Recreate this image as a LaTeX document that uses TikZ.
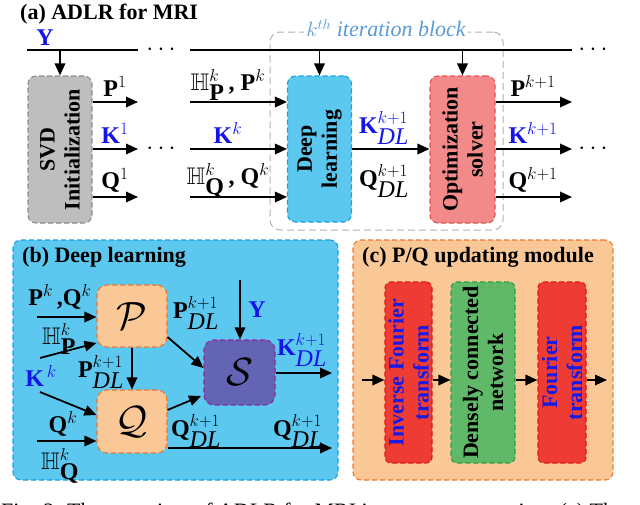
\documentclass[tikz,border=0pt]{standalone}
\usepackage{amssymb}
\usepackage{fontspec}
\setmainfont{Liberation Serif}
\usetikzlibrary{arrows.meta}
\definecolor{kblue}{RGB}{20,20,235}
\definecolor{itblue}{RGB}{91,155,213}
\definecolor{svdfill}{RGB}{190,190,190}
\definecolor{svdline}{RGB}{140,140,140}
\definecolor{dlfill}{RGB}{92,200,240}
\definecolor{dlline}{RGB}{20,160,225}
\definecolor{optfill}{RGB}{242,138,138}
\definecolor{optline}{RGB}{230,80,80}
\definecolor{orfill}{RGB}{250,200,150}
\definecolor{orline}{RGB}{232,120,50}
\definecolor{sfill}{RGB}{100,100,180}
\definecolor{sline}{RGB}{140,40,160}
\definecolor{redfill}{RGB}{238,60,52}
\definecolor{redline}{RGB}{225,20,20}
\definecolor{grfill}{RGB}{95,185,105}
\definecolor{grline}{RGB}{40,160,60}
\definecolor{txtblue}{RGB}{25,25,230}
\newcommand{\dlsub}{\textnormal{\textit{DL}}}
\tikzset{
  box/.style={draw, dash pattern=on 5pt off 3pt, line width=1.1pt, rounded corners=8pt, inner sep=0pt},
  arr/.style={line width=1.8pt, -{Triangle[length=12pt,width=10.5pt]}},
  plain/.style={line width=1.8pt},
  ttl/.style={font=\fontsize{22}{24}\selectfont\bfseries, inner sep=0pt},
  lbl/.style={font=\fontsize{24}{26}\selectfont\bfseries, inner sep=0pt},
  vtext/.style={font=\fontsize{22}{25}\selectfont\bfseries, rotate=90, align=center, inner sep=0pt},
  cal/.style={font=\fontsize{22}{24}\selectfont, inner sep=0pt}
}
\begin{document}
\begin{tikzpicture}[x=1pt,y=-1pt]
\useasboundingbox (0,0) rectangle (640,504);
\clip (0,0) rectangle (640,504);
\fill[white] (0,0) rectangle (640,504);

% ---------------- (a) ----------------
\node[ttl, anchor=west] (ta) at (20,14) {(a) ADLR for MRI};

\node[draw=gray!60, dash pattern=on 7pt off 4pt, line width=1pt, rounded corners=10pt,
      minimum width=233pt, minimum height=198pt, inner sep=0pt] (iter) at (386.5,131) {};
\node[fill=white, inner sep=2pt, text=itblue, font=\fontsize{22}{24}\selectfont\itshape] (itlbl) at (386,28) {$k^{th}$ iteration block};

\node[lbl, text=kblue] (ylbl) at (45,38) {Y};
\coordinate (ya) at (27,50);
\coordinate (yb) at (138,50);
\coordinate (yc) at (190,50);
\coordinate (yd) at (572,50);
\draw[plain] (ya) -- (yb);
\draw[plain] (yc) -- (yd);
\node[lbl] (dots1) at (161,50) {$\cdots$};
\node[lbl] (dots2) at (593,50) {$\cdots$};

\node[box, fill=svdfill, draw=svdline, minimum width=64pt, minimum height=147pt] (svd) at (60,149.5) {};
\node[vtext] (svdt) at (svd.center) {SVD\\Initialization};
\node[box, fill=dlfill, draw=dlline, minimum width=64pt, minimum height=146pt] (dl) at (319.5,149) {};
\node[vtext] (dlt) at (dl.center) {Deep\\learning};
\node[box, fill=optfill, draw=optline, minimum width=65pt, minimum height=147pt] (opt) at (462.5,149.5) {};
\node[vtext] (optt) at (opt.center) {Optimization\\solver};

\draw[arr] (svd.north |- ya) -- (svd.north);
\draw[arr] (dl.north |- yc) -- (dl.north);
\draw[arr] (opt.north |- yc) -- (opt.north);

% outputs of SVD
\coordinate (s1) at (138,102);
\coordinate (s2) at (138,149);
\coordinate (s3) at (138,197);
\draw[arr] (svd.east |- s1) -- (s1);
\draw[arr] (svd.east |- s2) -- (s2);
\draw[arr] (svd.east |- s3) -- (s3);
\node[lbl] (p1) at (115,86) {P$^{1}$};
\node[lbl, text=kblue] (k1) at (115,133) {K$^{1}$};
\node[lbl] (q1) at (115,180) {Q$^{1}$};
\node[lbl] (dots3) at (161,149) {$\cdots$};

% inputs of DL
\coordinate (d1) at (190,102);
\coordinate (d2) at (190,149);
\coordinate (d3) at (190,197);
\draw[arr] (d1) -- (dl.west |- d1);
\draw[arr] (d2) -- (dl.west |- d2);
\draw[arr] (d3) -- (dl.west |- d3);
\node[lbl] (hp) at (228,85) {$\mathbb{H}^{k}_{\textbf{P}}\,$, P$^{k}$};
\node[lbl, text=kblue] (kk) at (228,133) {K$^{k}$};
\node[lbl] (hq) at (228,181) {$\mathbb{H}^{k}_{\textbf{Q}}\,$, Q$^{k}$};

% DL -> opt
\draw[arr] (dl.east |- d2) -- (opt.west |- d2);
\node[lbl, text=kblue] (kdl) at (384,128) {K$^{k+1}_{\dlsub}$};
\node[lbl] (qdl) at (384,181) {Q$^{k+1}_{\dlsub}$};

% outputs of opt
\coordinate (o1) at (572,102);
\coordinate (o2) at (572,149);
\coordinate (o3) at (572,197);
\draw[arr] (opt.east |- o1) -- (o1);
\draw[arr] (opt.east |- o2) -- (o2);
\draw[arr] (opt.east |- o3) -- (o3);
\node[lbl] (pk1) at (533,86) {P$^{k+1}$};
\node[lbl, text=kblue] (kk1) at (533,133) {K$^{k+1}$};
\node[lbl] (qk1) at (533,180) {Q$^{k+1}$};
\node[lbl] (dots4) at (593,149) {$\cdots$};

% ---------------- (b) ----------------
\node[box, fill=dlfill, draw=dlline, minimum width=325pt, minimum height=240pt] (pb) at (175.5,360) {};
\node[ttl, anchor=west] (tb) at (22,257) {(b) Deep learning};

\node[box, fill=orfill, draw=orline, minimum width=70pt, minimum height=62pt, rounded corners=10pt] (P) at (132,316) {};
\node[cal] (Pt) at (P.center) {\scalebox{1.9}{$\mathcal{P}$}};
\node[box, fill=orfill, draw=orline, minimum width=70pt, minimum height=63pt, rounded corners=10pt] (Q) at (132,421.5) {};
\node[cal] (Qt) at (Q.center) {\scalebox{1.9}{$\mathcal{Q}$}};
\node[box, fill=sfill, draw=sline, minimum width=71pt, minimum height=65pt, rounded corners=10pt] (S) at (239.5,372.5) {};
\node[cal] (St) at (S.center) {\scalebox{1.9}{$\mathcal{S}$}};

\coordinate (pin) at (37,317);
\draw[arr] (pin) -- (P.west |- pin);
\node[lbl] (pqk) at (60,297) {P$^{k}$\,,Q$^{k}$};
\node[lbl] (hpk) at (59,339) {$\mathbb{H}^{k}_{\textbf{P}}$};

\node[lbl, text=kblue] (kkb) at (41,376) {K$^{\,k}$};
\coordinate (kp) at (40,358);
\coordinate (kq) at (40,392);
\draw[arr] (kp) -- (P.west |- 0,343);
\draw[arr] (kq) -- (Q.west |- 0,415);

\draw[arr] (P.south) -- (Q.north);
\node[lbl] (pdl1) at (101,372) {P$^{k+1}_{\dlsub}$};

\draw[arr] (P.east |- 0,337) -- (S.west |- 0,368);
\node[lbl] (pdl2) at (196,313) {P$^{k+1}_{\dlsub}$};

\coordinate (ytop) at (240,280);
\draw[arr] (ytop) -- (S.north -| ytop);
\node[lbl, text=kblue] (yb2) at (257,310) {Y};

\coordinate (sout) at (332,373);
\draw[arr] (S.east |- sout) -- (sout);
\node[lbl, text=kblue] (kdlb) at (302,350) {K$^{k+1}_{\dlsub}$};

\draw[arr] (Q.east |- 0,410) -- (201,396);
\node[lbl] (qdl1) at (196,431) {Q$^{k+1}_{\dlsub}$};

\coordinate (qout) at (332,448);
\draw[arr] (Q.east |- qout) -- (qout);
\node[lbl] (qdl2) at (298,431) {Q$^{k+1}_{\dlsub}$};

\coordinate (qin) at (37,441);
\draw[arr] (qin) -- (Q.west |- qin);
\node[lbl] (qkb) at (63,424) {Q$^{k}$};
\node[lbl] (hqk) at (60,466) {$\mathbb{H}^{k}_{\textbf{Q}}$};

% ---------------- (c) ----------------
\node[box, fill=orfill, draw=orline, minimum width=260pt, minimum height=240pt] (pc) at (483,360) {};
\node[ttl, anchor=west] (tc) at (362,257) {(c) P/Q updating module};

\node[box, fill=redfill, draw=redline, minimum width=47pt, minimum height=181pt, rounded corners=6pt] (ift) at (408.5,372.5) {};
\node[vtext, text=txtblue] (iftt) at (ift.center) {Inverse Fourier\\transform};
\node[box, fill=grfill, draw=grline, minimum width=64pt, minimum height=181pt, rounded corners=6pt] (dcn) at (483,372.5) {};
\node[vtext] (dcnt) at (dcn.center) {Densely connected\\network};
\node[box, fill=redfill, draw=redline, minimum width=48pt, minimum height=181pt, rounded corners=6pt] (ft) at (562,372.5) {};
\node[vtext, text=txtblue] (ftt) at (ft.center) {Fourier\\transform};

\coordinate (cin) at (362,380);
\coordinate (cout) at (607,380);
\draw[arr] (cin) -- (ift.west |- cin);
\draw[arr] (ift.east |- cin) -- (dcn.west |- cin);
\draw[arr] (dcn.east |- cin) -- (ft.west |- cin);
\draw[arr] (ft.east |- cin) -- (cout);

% caption (cut off by the picture's lower edge)
\node[anchor=base west, inner sep=0pt, font=\fontsize{22}{24}\selectfont] (cap) at (1,518) {Fig. 2. The overview of ADLR for MRI image reconstruction. (c) The structure};
\end{tikzpicture}
\end{document}
